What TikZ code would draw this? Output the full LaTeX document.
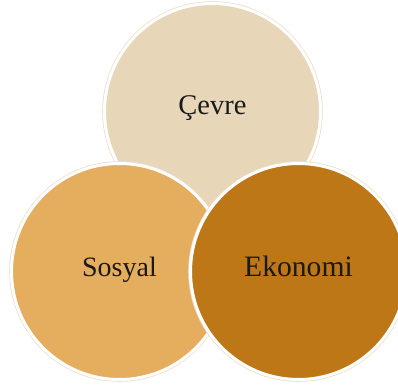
\documentclass[tikz,border=0pt]{standalone}
\usepackage{fontspec}
\setmainfont{Liberation Serif}
\usepackage{tikz}
\usetikzlibrary{positioning}

\definecolor{cevreCol}{RGB}{232,214,185}
\definecolor{sosyalCol}{RGB}{229,173,94}
\definecolor{ekonomiCol}{RGB}{190,119,23}
\definecolor{edgeCol}{RGB}{238,222,200}

\tikzset{
    ring/.style={circle,inner sep=0pt,minimum size=216pt,draw=white,line width=3pt,
        preaction={draw=edgeCol,line width=4.6pt},
        font=\fontsize{28.5}{30}\selectfont,text=black!90,
        text height=19pt,text depth=8.6pt}
}

\begin{document}
\begin{tikzpicture}[x=1pt,y=-1pt]
        % Page frame
        \useasboundingbox (0,0) rectangle (398,385);

        % Top circle
        \node[ring,fill=cevreCol,text depth=13.4pt] (cevre) at (212.5,111.5) {Çevre};

        % Bottom circles
        \node[ring,fill=sosyalCol,font=\fontsize{28}{30}\selectfont] (sosyal) at (119.5,271.5) {Sosyal};
        \node[ring,fill=ekonomiCol,font=\fontsize{29.6}{30}\selectfont] (ekonomi) at (298.5,271.5) {Ekonomi};

    \end{tikzpicture}
\end{document}
